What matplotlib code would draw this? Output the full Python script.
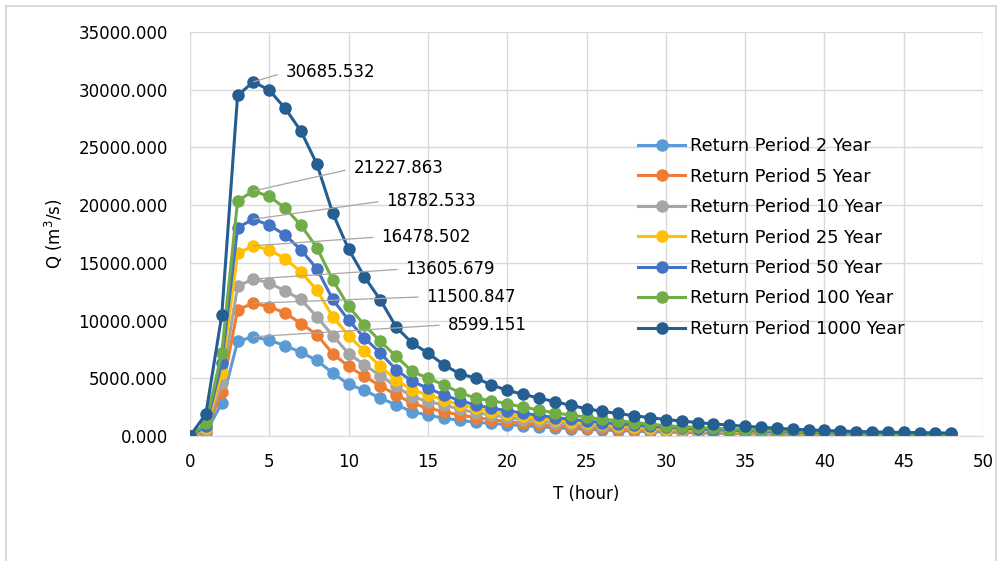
import matplotlib
matplotlib.use('Agg')
import matplotlib.pyplot as plt
from matplotlib.patches import Rectangle

# Données : débit Q (m3/s) par pas de temps (heure)
hours = list(range(0, 49))

q_2 = [0, 300, 2850, 8200, 8599.151, 8290, 7830, 7250, 6550, 5450,
       4480, 3950, 3280, 2700, 2116, 1800, 1550, 1350, 1200, 1090,
       990, 890, 800, 720, 650, 580, 520, 470, 420, 380,
       340, 310, 280, 250, 220, 200, 180, 160, 150, 130,
       120, 110, 100, 90, 80, 70, 60, 60, 50]
q_5 = [0, 450, 3800, 10950, 11500.847, 11190, 10670, 9740, 8780, 7130,
       6030, 5160, 4350, 3565, 2843, 2406, 2116, 1826, 1600, 1420,
       1260, 1120, 1010, 910, 820, 730, 660, 590, 530, 480,
       430, 390, 350, 310, 280, 250, 230, 210, 190, 170,
       150, 140, 130, 120, 110, 100, 90, 80, 70]
q_10 = [0, 550, 4580, 12980, 13605.679, 13270, 12550, 11830, 10320, 8700,
        7130, 6170, 5220, 4290, 3420, 2983, 2696, 2319, 2029, 1826,
        1626, 1430, 1290, 1160, 1040, 930, 840, 760, 680, 610,
        550, 500, 450, 400, 360, 330, 300, 270, 240, 220,
        200, 180, 160, 150, 140, 130, 120, 110, 100]
q_25 = [0, 700, 5450, 15830, 16478.502, 16120, 15360, 14200, 12640, 10320,
        8700, 7330, 6030, 4870, 4000, 3565, 3130, 2696, 2406, 2116,
        1913, 1700, 1530, 1380, 1240, 1110, 1000, 900, 810, 730,
        650, 590, 530, 480, 430, 390, 350, 320, 290, 260,
        240, 220, 200, 180, 160, 150, 140, 130, 120]
q_50 = [0, 850, 6320, 18060, 18782.533, 18260, 17420, 16120, 14490, 11830,
        10030, 8490, 7190, 5740, 4725, 4145, 3565, 3072, 2696, 2406,
        2200, 1980, 1780, 1600, 1450, 1300, 1170, 1060, 950, 850,
        760, 690, 620, 560, 510, 460, 410, 370, 340, 310,
        280, 250, 230, 210, 190, 170, 160, 150, 140]
q_100 = [0, 1100, 7190, 20370, 21227.863, 20750, 19740, 18250, 16320, 13510,
         11220, 9610, 8200, 6900, 5590, 5017, 4435, 3765, 3278, 3070,
         2800, 2500, 2260, 1990, 1820, 1630, 1450, 1330, 1160, 1040,
         880, 810, 740, 670, 610, 550, 500, 450, 410, 370,
         340, 310, 280, 260, 240, 220, 200, 190, 170]
q_1000 = [0, 1910, 10450, 29500, 30685.532, 29950, 28380, 26400, 23550, 19300,
          16180, 13780, 11790, 9440, 8060, 7190, 6170, 5390, 5020, 4440,
          3950, 3620, 3280, 2980, 2650, 2370, 2130, 1950, 1750, 1600,
          1420, 1300, 1160, 1050, 940, 840, 760, 670, 590, 530,
          480, 430, 390, 360, 330, 310, 290, 270, 250]

series = [q_2, q_5, q_10, q_25, q_50, q_100, q_1000]
labels = ['Return Period 2 Year', 'Return Period 5 Year', 'Return Period 10 Year',
          'Return Period 25 Year', 'Return Period 50 Year', 'Return Period 100 Year',
          'Return Period 1000 Year']
colors = ['#5B9BD5', '#ED7D31', '#A5A5A5', '#FFC000', '#4472C4', '#70AD47', '#255E91']

# décalage (pixels) des étiquettes de pic
label_offsets = [(194, 12), (173, 6.5), (152, 10), (128, 9), (133, 18.6), (100, 22.5), (32, 9.5)]

plt.rcParams['font.family'] = ['DejaVu Sans']
fig = plt.figure(figsize=(9.98, 5.61), dpi=100)
ax = fig.add_axes([0.1904, 0.2228, 0.7946, 0.7202])

for q, lab, col in zip(series, labels, colors):
    ax.plot(hours, q, '-o', color=col, lw=2.2, markersize=8, label=lab)

# étiquettes des pics avec ligne de rappel
for q, off in zip(series, label_offsets):
    i = q.index(max(q))
    ax.annotate('%.3f' % q[i], xy=(hours[i], q[i]), xytext=off,
                textcoords='offset pixels', ha='left', va='center', fontsize=12,
                color='#000000',
                arrowprops=dict(arrowstyle='-', color='#A6A6A6', lw=0.9,
                                shrinkA=4, shrinkB=0, relpos=(0, 0.5)))

ax.set_xlim(0, 50)
ax.set_ylim(0, 35000)
ax.set_xticks(range(0, 51, 5))
ax.set_yticks(range(0, 35001, 5000))
ax.set_yticklabels(['%.3f' % v for v in range(0, 35001, 5000)])
ax.grid(True, color='#D9D9D9', lw=1)
ax.set_axisbelow(True)
for s in ['top', 'right', 'left']:
    ax.spines[s].set_visible(False)
ax.spines['bottom'].set_color('#D9D9D9')
ax.tick_params(length=0, labelsize=12, colors='#000000')
ax.tick_params(axis='y', pad=16)
ax.tick_params(axis='x', pad=12)

ax.set_xlabel('T (hour)', fontsize=12, labelpad=10)
ax.set_ylabel('Q (m$^3$/s)', fontsize=12, labelpad=10)

ax.legend(loc='upper left', bbox_to_anchor=(0.5565, 0.757), frameon=False, fontsize=12.8,
          handlelength=2.6, labelspacing=0.7, handletextpad=0.3, borderaxespad=0)

# cadre gris autour de la figure
fig.patches.append(Rectangle((0.006, -0.1), 0.992, 1.09, transform=fig.transFigure,
                             fill=False, edgecolor='#D9D9D9', lw=1.5))

fig.savefig('out.png', dpi=100)
